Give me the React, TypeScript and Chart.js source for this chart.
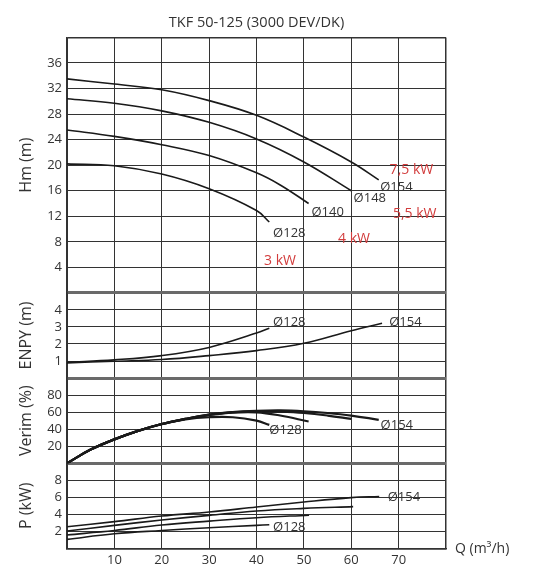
import React, { useEffect, useRef } from 'react';
import { Chart, registerables } from 'chart.js';

Chart.register(...registerables);

const FONT = 'Open Sans';
const TITLE = 'TKF 50-125 (3000 DEV/DK)';
const X_TITLE = 'Q (m³/h)';

// ---- Hm (m) ----
const hmQ154 = [0, 10, 20, 30, 40, 50, 60, 65.8];
const hm154 = [33.5, 32.7, 31.8, 30.1, 27.8, 24.4, 20.5, 17.7];
const hmQ148 = [0, 10, 20, 30, 40, 50, 60];
const hm148 = [30.4, 29.7, 28.5, 26.7, 24.1, 20.5, 16.0];
const hmQ140 = [0, 10, 20, 30, 40, 45, 51];
const hm140 = [25.5, 24.5, 23.2, 21.5, 18.8, 16.9, 14.0];
const hmQ128 = [0, 10, 20, 30, 40, 42.7];
const hm128 = [20.2, 19.9, 18.6, 16.3, 12.9, 11.1];

// ---- ENPY (m) ----
const npQ154 = [0, 10, 20, 30, 40, 50, 60, 66.5];
const np154 = [0.89, 0.99, 1.09, 1.32, 1.61, 2.04, 2.78, 3.22];
const npQ128 = [0, 10, 20, 30, 40, 42.7];
const np128 = [0.93, 1.07, 1.32, 1.8, 2.64, 2.93];

// ---- Verim (%) ----
const efQ154 = [0, 5, 10, 15, 20, 25, 30, 35, 40, 45, 50, 55, 60, 65.8];
const ef154 = [0, 16, 28, 38, 46, 52, 57, 60, 61.5, 62, 61, 59, 56, 51];
const efQ148 = [0, 5, 10, 15, 20, 25, 30, 35, 40, 45, 50, 55, 60];
const ef148 = [0, 16, 28, 38, 46, 52, 57, 60, 61, 60.5, 59, 56, 52];
const efQ140 = [0, 5, 10, 15, 20, 25, 30, 35, 40, 45, 51];
const ef140 = [0, 16, 28, 38, 46, 52, 56.5, 59.5, 59.8, 56, 49];
const efQ128 = [0, 5, 10, 15, 20, 25, 30, 35, 40, 42.7];
const ef128 = [0, 16, 28, 38, 46, 51.5, 54, 54, 50, 45];

// ---- P (kW) ----
const pwQ154 = [0, 10, 20, 30, 40, 50, 60, 65.9];
const pw154 = [2.55, 3.14, 3.8, 4.27, 4.86, 5.45, 5.96, 6.1];
const pwQ148 = [0, 10, 20, 30, 40, 50, 60.4];
const pw148 = [2.04, 2.7, 3.33, 3.88, 4.4, 4.7, 4.9];
const pwQ140 = [0, 10, 20, 30, 40, 51.1];
const pw140 = [1.57, 2.1, 2.75, 3.2, 3.6, 3.9];
const pwQ128 = [0, 10, 20, 30, 40, 42.7];
const pw128 = [1.06, 1.72, 2.1, 2.43, 2.7, 2.78];

// ---- curve labels ----
const dLabelText = ['Ø154', 'Ø148', 'Ø140', 'Ø128', 'Ø128', 'Ø154', 'Ø128', 'Ø154', 'Ø128', 'Ø154'];
const dLabelAxis = ['yH', 'yH', 'yH', 'yH', 'yN', 'yN', 'yV', 'yV', 'yP', 'yP'];
const dLabelQ = [66.1, 60.5, 51.6, 43.5, 43.5, 68, 42.7, 66.2, 43.5, 67.7];
const dLabelV = [16.6, 14.8, 12.6, 9.4, 3.27, 3.27, 39, 45, 2.5, 6.0];

const kwText = ['7,5 kW', '5,5 kW', '4 kW', '3 kW'];
const kwQ = [68.1, 68.8, 57.2, 41.6];
const kwH = [19.25, 12.4, 8.4, 5.0];

const pts = (q: number[], v: number[]) => q.map((x, i) => ({ x, y: v[i] }));

const labelPlugin = {
  id: 'curveLabels',
  afterDatasetsDraw(chart: any) {
    const ctx = chart.ctx;
    const xs = chart.scales.x;
    ctx.save();
    ctx.textBaseline = 'middle';
    ctx.textAlign = 'left';
    ctx.font = `13px "${FONT}"`;
    ctx.fillStyle = '#333';
    dLabelText.forEach((t, i) => {
      const ys = chart.scales[dLabelAxis[i]];
      ctx.fillText(t, xs.getPixelForValue(dLabelQ[i]), ys.getPixelForValue(dLabelV[i]));
    });
    ctx.font = `14px "${FONT}"`;
    ctx.fillStyle = '#d23c3c';
    kwText.forEach((t, i) => {
      ctx.fillText(t, xs.getPixelForValue(kwQ[i]), chart.scales.yH.getPixelForValue(kwH[i]));
    });
    ctx.font = `14px "${FONT}"`;
    ctx.fillStyle = '#333';
    ctx.fillText(X_TITLE, chart.chartArea.right + 9, chart.chartArea.bottom + 1);
    ctx.restore();
  },
};

function yAxis(min: number, max: number, step: number, title: string, weight: number, isTop: boolean, isBottom: boolean) {
  const edge = (v: number) => (v === min && !isBottom) || (v === max && !isTop);
  return {
    type: 'linear',
    position: 'left',
    stack: 'panels',
    stackWeight: weight,
    min,
    max,
    ticks: {
      stepSize: step,
      autoSkip: false,
      padding: 5,
      color: '#333',
      font: { family: FONT, size: 13 },
      callback: (v: number) => (v === min || v === max ? '' : String(v)),
    },
    grid: {
      drawTicks: false,
      color: (c: any) => (edge(c.tick.value) ? '#6a6a6a' : '#333'),
      lineWidth: (c: any) => (edge(c.tick.value) ? 3 : (c.tick.value === min || c.tick.value === max ? 1.5 : 1)),
    },
    border: { display: true, color: '#333', width: 1.5 },
    title: {
      display: true,
      text: title,
      color: '#333',
      font: { family: FONT, size: 16 },
      padding: { top: 17, bottom: 0 },
    },
    afterFit: (s: any) => {
      s.width = 67;
    },
  };
}

const lineDs = (data: any[], axis: string, width = 1.6) => ({
  data,
  yAxisID: axis,
  borderColor: '#1a1a1a',
  borderWidth: width,
  pointRadius: 0,
  fill: false,
  tension: 0.4,
});

export default function App() {
  const ref = useRef<HTMLCanvasElement>(null);
  useEffect(() => {
    if (!ref.current) return;
    const chart = new Chart(ref.current, {
      type: 'line',
      data: {
        datasets: [
          lineDs(pts(hmQ154, hm154), 'yH'),
          lineDs(pts(hmQ148, hm148), 'yH'),
          lineDs(pts(hmQ140, hm140), 'yH'),
          lineDs(pts(hmQ128, hm128), 'yH'),
          lineDs(pts(npQ154, np154), 'yN'),
          lineDs(pts(npQ128, np128), 'yN'),
          lineDs(pts(efQ154, ef154), 'yV', 2.2),
          lineDs(pts(efQ148, ef148), 'yV', 2.2),
          lineDs(pts(efQ140, ef140), 'yV', 2.2),
          lineDs(pts(efQ128, ef128), 'yV', 2.2),
          lineDs(pts(pwQ154, pw154), 'yP'),
          lineDs(pts(pwQ148, pw148), 'yP'),
          lineDs(pts(pwQ140, pw140), 'yP'),
          lineDs(pts(pwQ128, pw128), 'yP'),
        ] as any,
      },
      options: {
        animation: false,
        responsive: false,
        devicePixelRatio: 1,
        layout: { padding: { left: 0, right: 98, top: 0, bottom: 7 } },
        plugins: {
          legend: { display: false },
          tooltip: { enabled: false },
          title: {
            display: true,
            fullSize: false,
            text: TITLE,
            color: '#333',
            font: { family: FONT, size: 14.5, weight: 'normal' },
            padding: { top: 14, bottom: 6 },
          },
        },
        scales: {
          x: {
            type: 'linear',
            min: 0,
            max: 80,
            ticks: {
              stepSize: 10,
              autoSkip: false,
              padding: 4,
              color: '#333',
              font: { family: FONT, size: 13 },
              callback: (v: any) => (v === 0 || v === 80 ? '' : String(v)),
            },
            grid: {
              drawTicks: false,
              color: '#333',
              lineWidth: (c: any) => (c.tick && (c.tick.value === 80) ? 1.5 : 1),
            },
            border: { display: true, color: '#333', width: 1.5 },
          },
          yP: yAxis(0, 10, 2, 'P (kW)', 1, false, true),
          yV: yAxis(0, 100, 20, 'Verim (%)', 1, false, false),
          yN: yAxis(0, 5, 1, 'ENPY (m)', 1, false, false),
          yH: yAxis(0, 40, 4, 'Hm (m)', 3, true, false),
        } as any,
      },
      plugins: [labelPlugin],
    });
    return () => chart.destroy();
  }, []);
  return (
    <div style={{ position: 'absolute', left: 0, top: 0, width: 544, height: 579, background: '#fff' }}>
      <canvas ref={ref} width={544} height={579} />
    </div>
  );
}
